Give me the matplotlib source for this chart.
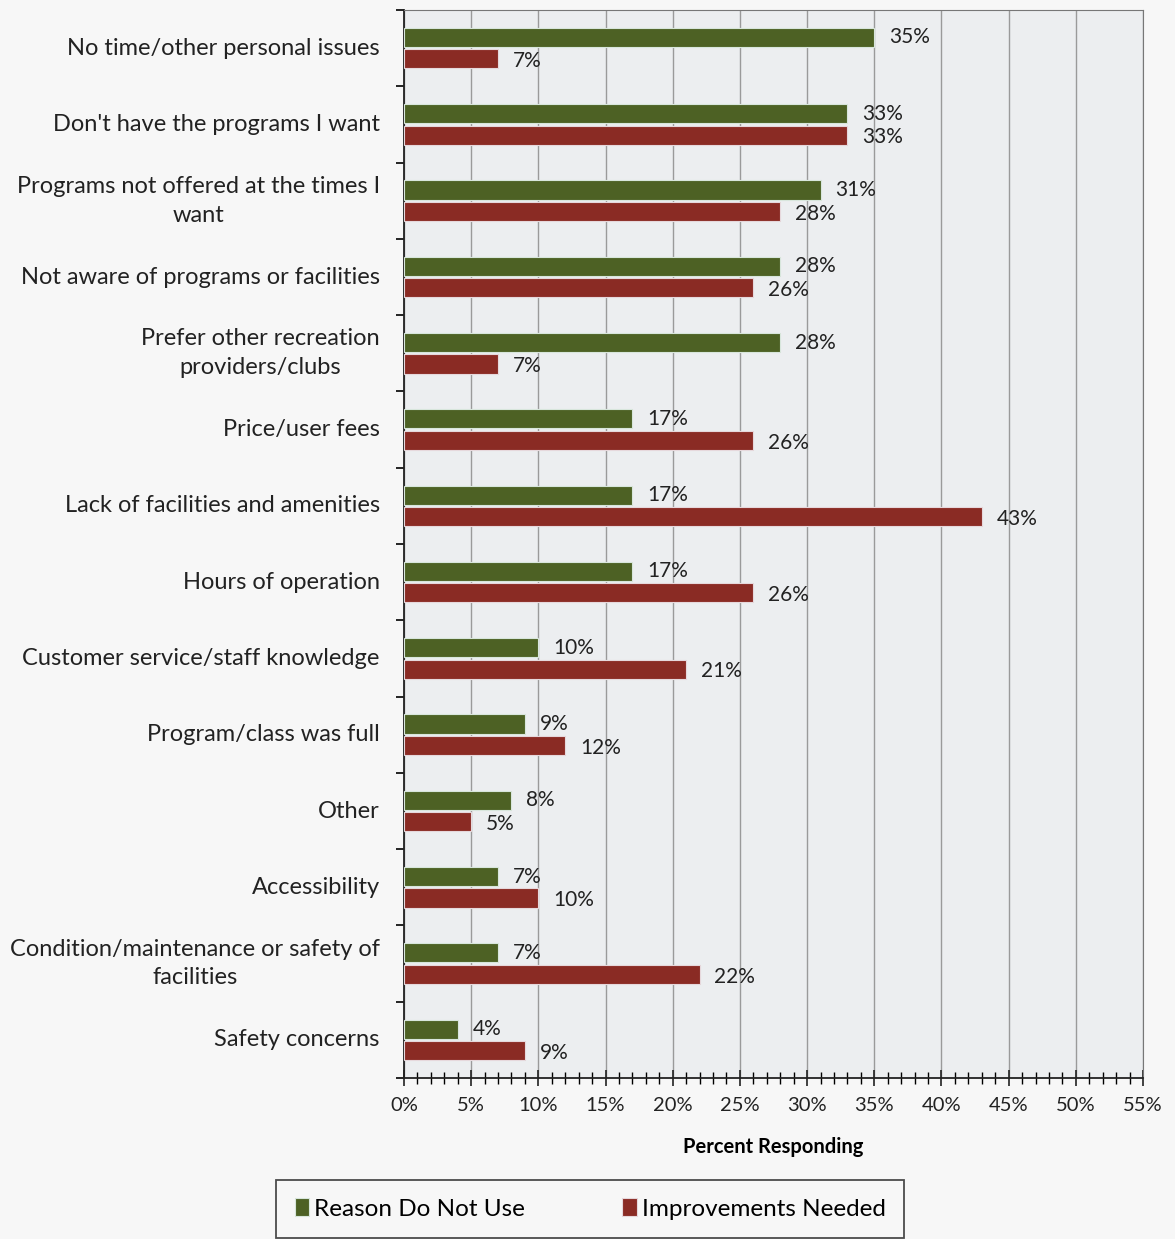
import numpy as np
import matplotlib.pyplot as plt
from matplotlib.ticker import MultipleLocator, FuncFormatter

plt.rcParams['font.family'] = ['Lato', 'DejaVu Sans']

categories = [
    'No time/other personal issues',
    "Don't have the programs I want",
    'Programs not offered at the times I\nwant',
    'Not aware of programs or facilities',
    'Prefer other recreation\nproviders/clubs',
    'Price/user fees',
    'Lack of facilities and amenities',
    'Hours of operation',
    'Customer service/staff knowledge',
    'Program/class was full',
    'Other',
    'Accessibility',
    'Condition/maintenance or safety of\nfacilities',
    'Safety concerns',
]
reason_not_use = [35, 33, 31, 28, 28, 17, 17, 17, 10, 9, 8, 7, 7, 4]
improvements = [7, 33, 28, 26, 7, 26, 43, 26, 21, 12, 5, 10, 22, 9]

green = '#4d6124'
red = '#8a2b24'

fig = plt.figure(figsize=(11.75, 12.39), dpi=100)
fig.patch.set_facecolor('#f7f7f7')
ax = fig.add_axes([404 / 1175, 1 - 1078 / 1239, 739 / 1175, 1068 / 1239])
ax.set_facecolor('#eceef0')

n = len(categories)
y = np.arange(n)
h = 0.25
gb = ax.barh(y - h / 2 - 0.015, reason_not_use, height=h, color=green,
             edgecolor='#d8e6dc', linewidth=0.8, label='Reason Do Not Use', zorder=3)
rb = ax.barh(y + h / 2 + 0.015, improvements, height=h, color=red,
             edgecolor='#e6d8dc', linewidth=0.8, label='Improvements Needed', zorder=3)

for bar, v in zip(gb, reason_not_use):
    ax.text(v + 1.1, bar.get_y() + bar.get_height() / 2, f'{v}%',
            va='center', ha='left', fontsize=15, color='#222222')
for bar, v in zip(rb, improvements):
    ax.text(v + 1.1, bar.get_y() + bar.get_height() / 2 + 0.03, f'{v}%',
            va='center', ha='left', fontsize=15, color='#222222')

ax.set_xlim(0, 55)
ax.set_ylim(n - 0.5, -0.5)
ax.xaxis.set_major_locator(MultipleLocator(5))
ax.xaxis.set_minor_locator(MultipleLocator(1))
ax.xaxis.set_major_formatter(FuncFormatter(lambda v, p: f'{v:.0f}%'))
ax.grid(axis='x', which='major', color='#9a9a9a', linewidth=1.0, zorder=0)
ax.tick_params(axis='x', which='major', direction='inout', length=12, width=1.2,
               labelsize=14.5, pad=8, colors='#222222')
ax.tick_params(axis='x', which='minor', direction='inout', length=8, width=1.0)

# category labels sit between the boundary ticks
ax.set_yticks(np.arange(-0.5, n, 1))
ax.set_yticklabels([])
ax.tick_params(axis='y', direction='out', length=6, width=1.2)
for yi, lab in zip(y, categories):
    ax.text(-1.8, yi, lab, ha='right', va='center', multialignment='center',
            fontsize=17, color='#222222', linespacing=1.45)

for side in ['top', 'right']:
    ax.spines[side].set_color('#777777')
for side in ['left', 'bottom']:
    ax.spines[side].set_color('#222222')
    ax.spines[side].set_linewidth(1.3)

ax.set_xlabel('Percent Responding', fontsize=14.5, fontweight='bold', labelpad=16)

leg = fig.legend(handles=[gb, rb], loc='center', bbox_to_anchor=(590 / 1175, 1 - 1209 / 1239),
                 ncol=2, fontsize=17.5, frameon=True, fancybox=False, edgecolor='#222222',
                 handlelength=0.6, handleheight=0.7, handletextpad=0.2, columnspacing=4.0,
                 borderpad=0.75, borderaxespad=0)
leg.get_frame().set_linewidth(1.3)
leg.get_frame().set_facecolor('#f7f7f7')

fig.savefig('out.png', dpi=100, facecolor=fig.get_facecolor())
